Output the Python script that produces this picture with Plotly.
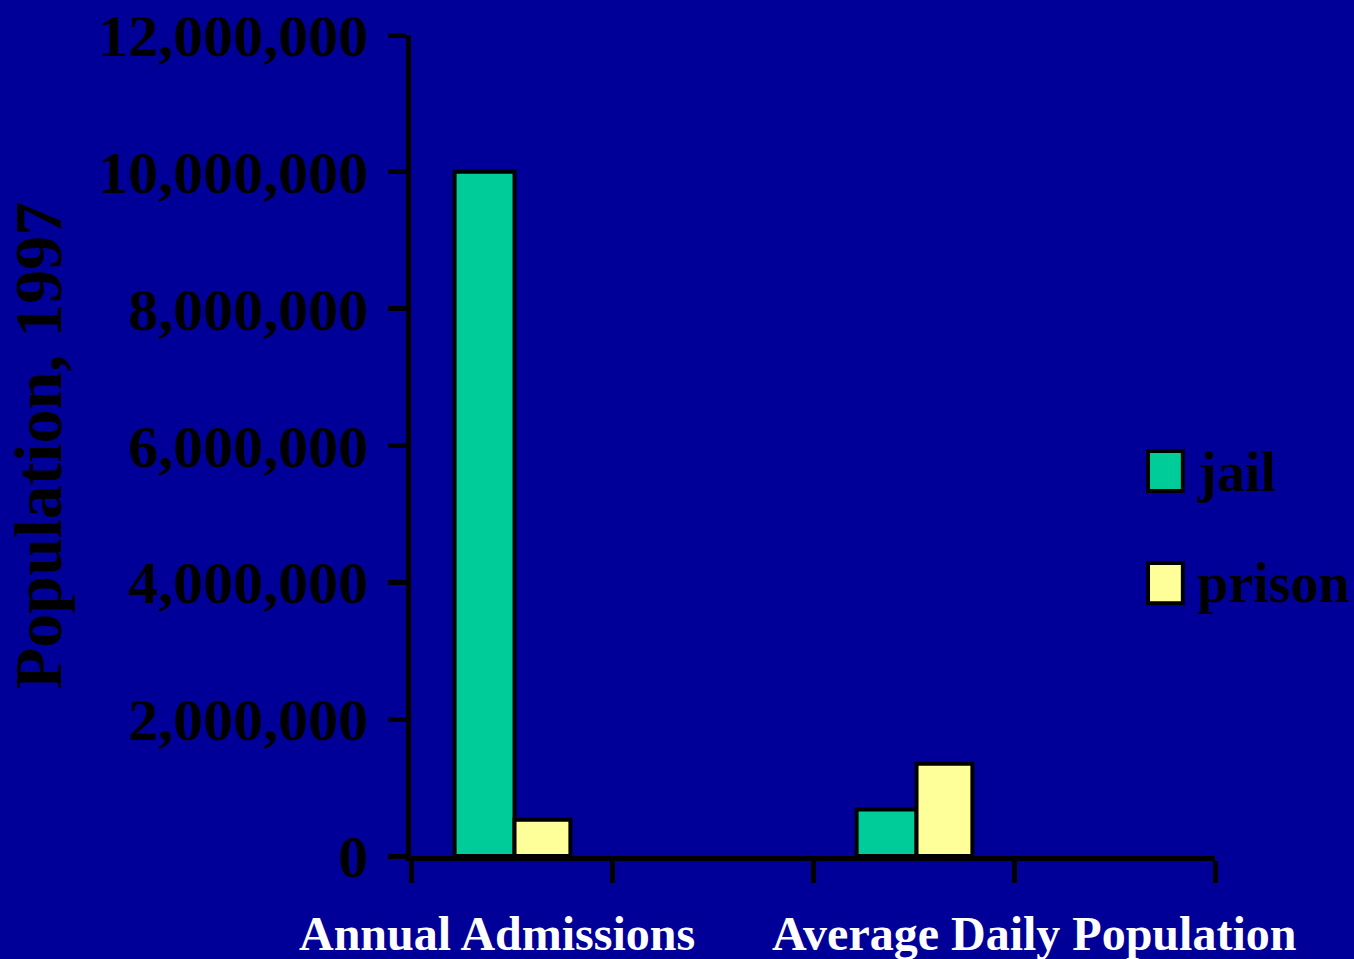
import plotly.graph_objects as go

categories = ["Annual Admissions", "Average Daily Population"]
cat_pos = [0.5, 2.5]
label_pos = [0.43, 3.1]
series_names = ["jail", "prison"]
jail = [10000000, 680000]
prison = [530000, 1350000]
colors = ["#00CC99", "#FFFF99"]
y_ticks = [0, 2000000, 4000000, 6000000, 8000000, 10000000, 12000000]
x_ticks = [0, 1, 2, 3, 4]

BG = "#000099"
FONT = "Liberation Serif, Times New Roman, serif"

fig = go.Figure()
bar_geom = [(0.298, -0.283), (0.278, 0.015)]
for name, vals, col, (bw, off) in zip(series_names, [jail, prison], colors, bar_geom):
    fig.add_trace(go.Bar(
        x=cat_pos, y=vals, name=name, width=bw, offset=off,
        marker=dict(color=col, line=dict(color="black", width=4)),
        showlegend=False,
    ))

# category labels
for lab, xp in zip(categories, label_pos):
    fig.add_annotation(x=xp, xref="x", y=-0.095, yref="paper", text=lab,
                       showarrow=False, xanchor="center", yanchor="middle",
                       font=dict(family=FONT, size=48, color="white", weight="bold"))

# legend (manual, large swatches)
leg_rows = [(0.4446, 0.4933, 0.468), (0.308, 0.357, 0.3325)]
for name, col, (y0, y1, yc) in zip(series_names, colors, leg_rows):
    fig.add_shape(type="rect", xref="paper", yref="paper",
                  x0=0.9167, x1=0.960, y0=y0, y1=y1,
                  fillcolor=col, line=dict(color="black", width=4))
    fig.add_annotation(x=0.975, xref="paper", y=yc, yref="paper", text=name,
                       showarrow=False, xanchor="left", yanchor="middle",
                       font=dict(family=FONT, size=56, color="black", weight="bold"))

fig.update_layout(
    width=1354, height=959,
    margin=dict(l=411, r=139, t=35, b=103),
    paper_bgcolor=BG, plot_bgcolor=BG,
    barmode="overlay",
    showlegend=False,
    xaxis=dict(range=[0, 4], tickvals=x_ticks, showticklabels=False,
               ticks="outside", ticklen=22, tickwidth=5, tickcolor="black",
               showline=True, linewidth=5, linecolor="black", automargin=False,
               showgrid=False, zeroline=False, fixedrange=True),
    yaxis=dict(range=[0, 12000000], tickvals=y_ticks, tickformat=",",
               ticks="outside", ticklen=18, tickwidth=5, tickcolor="black",
               showline=True, linewidth=5, linecolor="black", automargin=False,
               showgrid=False, zeroline=False, ticklabelstandoff=8,
               tickfont=dict(family=FONT, size=60, color="black", weight="bold"),
               title=dict(text="Population, 1997", standoff=26,
                          font=dict(family=FONT, size=68, color="black", weight="bold"))),
)

fig.write_html("out.html", config={"displayModeBar": False},
               post_script="document.body.style.margin='0';document.body.style.overflow='hidden';")
